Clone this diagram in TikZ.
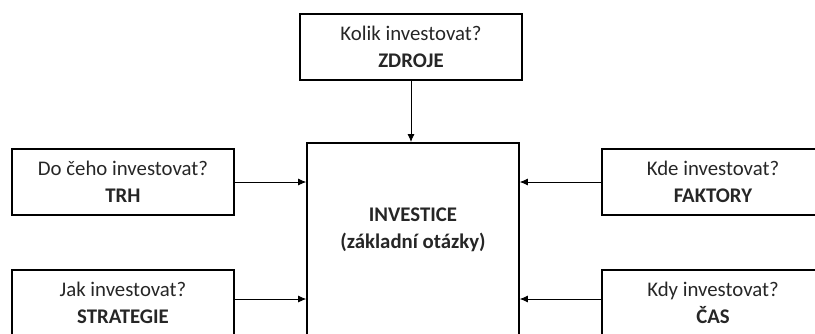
\documentclass[tikz,border=0pt]{standalone}
\usepackage{fontspec}
\setmainfont{Carlito}
\usetikzlibrary{arrows.meta}
\begin{document}
\begin{tikzpicture}[x=1pt,y=-1pt,
  qbox/.style={draw=black, line width=1.6pt, minimum width=222pt, minimum height=66pt,
    align=center, inner sep=0pt, font=\fontsize{20.8}{26.5}\selectfont, text=black!85},
  arr/.style={line width=0.8pt, -{Latex[length=8pt,width=7pt]}}]
\useasboundingbox (0,0) rectangle (815,333);
\clip (0,0) rectangle (815,333);
\node[qbox] (zdroje) at (411,47) {Kolik investovat?\\\textbf{ZDROJE}};
\node[qbox] (trh) at (123,182) {Do čeho investovat?\\\textbf{TRH}};
\node[qbox] (strat) at (123,303) {Jak investovat?\\\textbf{STRATEGIE}};
\node[qbox] (fakt) at (713,182) {Kde investovat?\\\textbf{FAKTORY}};
\node[qbox] (cas) at (713,303) {Kdy investovat?\\\textbf{ČAS}};
\node[draw=black, line width=1.6pt, minimum width=212pt, minimum height=220pt, inner sep=0pt, anchor=north] (inv) at (413,142) {};
\node[align=center, inner sep=0pt, font=\fontsize{20.8}{26.5}\selectfont\bfseries, text=black!85] (invtext) at (413,230) {INVESTICE\\(základní otázky)};
\draw[arr] (zdroje.south) -- (zdroje.south |- inv.north);
\draw[arr] (trh.east) -- (trh.east -| inv.west);
\draw[arr] ([yshift=4pt]strat.east) -- ([yshift=4pt]strat.east -| inv.west);
\draw[arr] (fakt.west) -- (fakt.west -| inv.east);
\draw[arr] ([yshift=4pt]cas.west) -- ([yshift=4pt]cas.west -| inv.east);
\end{tikzpicture}
\end{document}
